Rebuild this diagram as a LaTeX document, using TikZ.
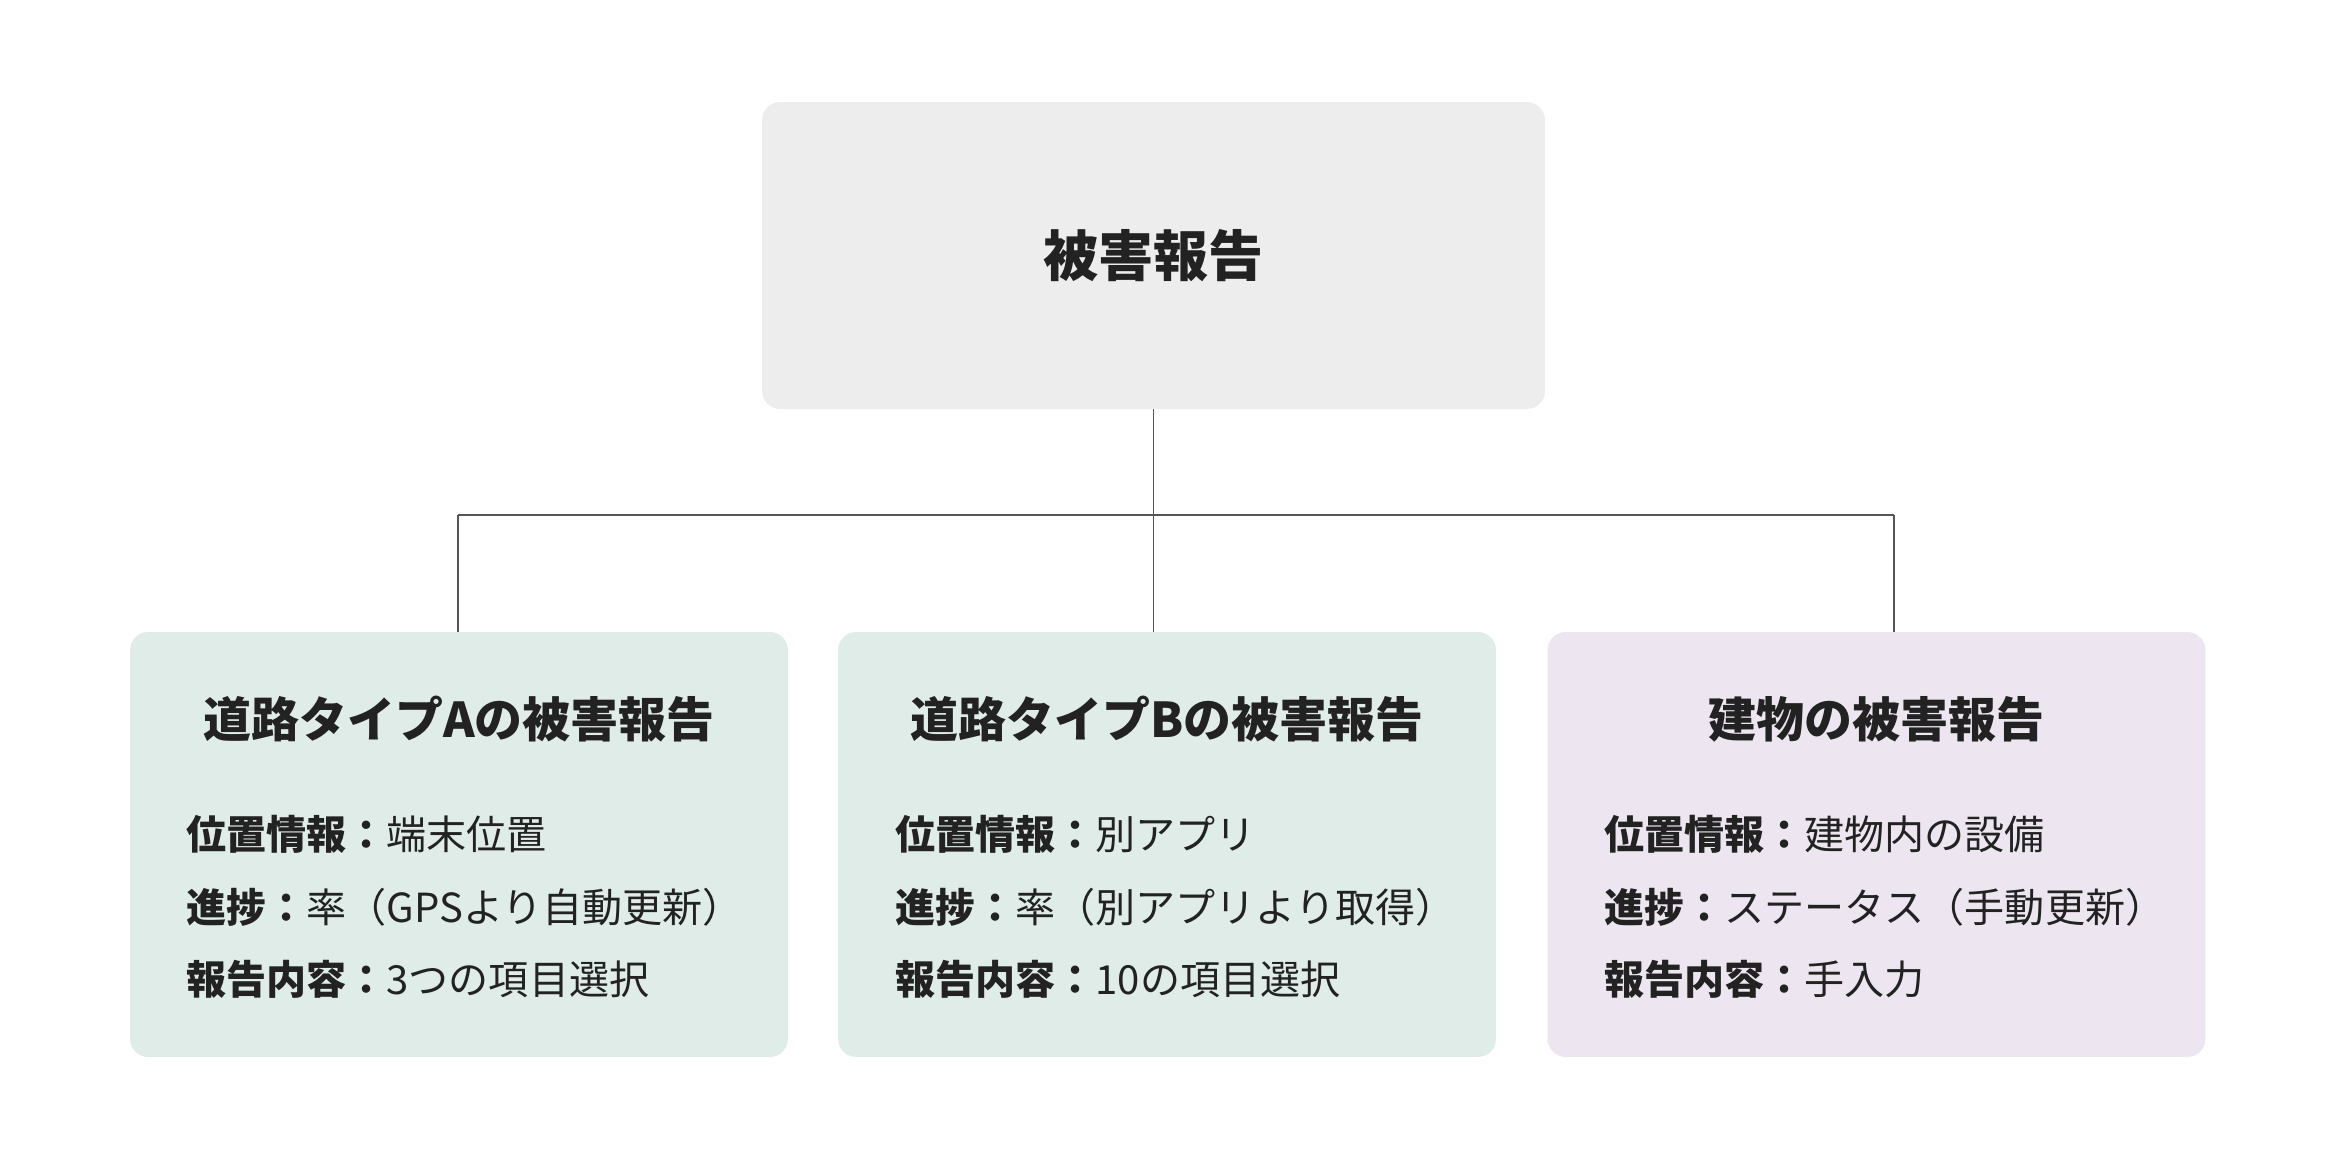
\documentclass[tikz,border=0pt]{standalone}
\usepackage{fontspec}
\setmainfont{Noto Sans CJK JP}
\usetikzlibrary{positioning}
\definecolor{rootfill}{HTML}{EDEDED}
\definecolor{roadfill}{HTML}{DFECE8}
\definecolor{bldgfill}{HTML}{EDE6F1}
\definecolor{inkcol}{HTML}{222222}
\definecolor{linkcol}{HTML}{555555}
\begin{document}
\begin{tikzpicture}[x=0.02cm, y=-0.02cm,
    box/.style={rounded corners=0.36cm, inner sep=0pt, minimum width=13.16cm, minimum height=8.5cm},
    head/.style={font=\fontsize{27.3}{32}\selectfont\bfseries, text=inkcol},
    item/.style={anchor=west, inner sep=0pt, font=\fontsize{22.8}{27}\selectfont, text=inkcol},
    link/.style={draw=linkcol, line width=0.7pt}]
    \useasboundingbox (0,0) rectangle (2348,1168);
    % root box
    \node[box, fill=rootfill, minimum width=15.66cm, minimum height=6.14cm] (root) at (1153.5,255.5) {};
    \node[font=\fontsize{31.3}{36}\selectfont\bfseries, text=inkcol] (rootlbl) at (root) {被害報告};
    % three report boxes
    \node[box, fill=roadfill] (roadA) at (459,844.5) {};
    \node[box, fill=roadfill] (roadB) at (1167,844.5) {};
    \node[box, fill=bldgfill] (bldg) at (1876.5,844.5) {};
    \node[head] (headA) at (459,719) {道路タイプAの被害報告};
    \node[head] (headB) at (1167,719) {道路タイプBの被害報告};
    \node[head] (headC) at (1876.5,719) {建物の被害報告};
    % items
    \node[item] (a1) at (186,834) {\textbf{位置情報：}端末位置};
    \node[item] (a2) at (186,907) {\textbf{進捗：}率（GPSより自動更新）};
    \node[item] (a3) at (186,979) {\textbf{報告内容：}3つの項目選択};
    \node[item] (b1) at (895,834) {\textbf{位置情報：}別アプリ};
    \node[item] (b2) at (895,907) {\textbf{進捗：}率（別アプリより取得）};
    \node[item] (b3) at (895,979) {\textbf{報告内容：}10の項目選択};
    \node[item] (c1) at (1604,834) {\textbf{位置情報：}建物内の設備};
    \node[item] (c2) at (1604,907) {\textbf{進捗：}ステータス（手動更新）};
    \node[item] (c3) at (1604,979) {\textbf{報告内容：}手入力};
    % connectors
    \coordinate (busL) at (458,515);
    \coordinate (busR) at (1894,515);
    \draw[link] (root.south) -- (root.south |- roadB.north);
    \draw[link] (busL) -- (busR);
    \draw[link] (busL) -- (busL |- roadA.north);
    \draw[link] (busR) -- (busR |- bldg.north);
\end{tikzpicture}
\end{document}
